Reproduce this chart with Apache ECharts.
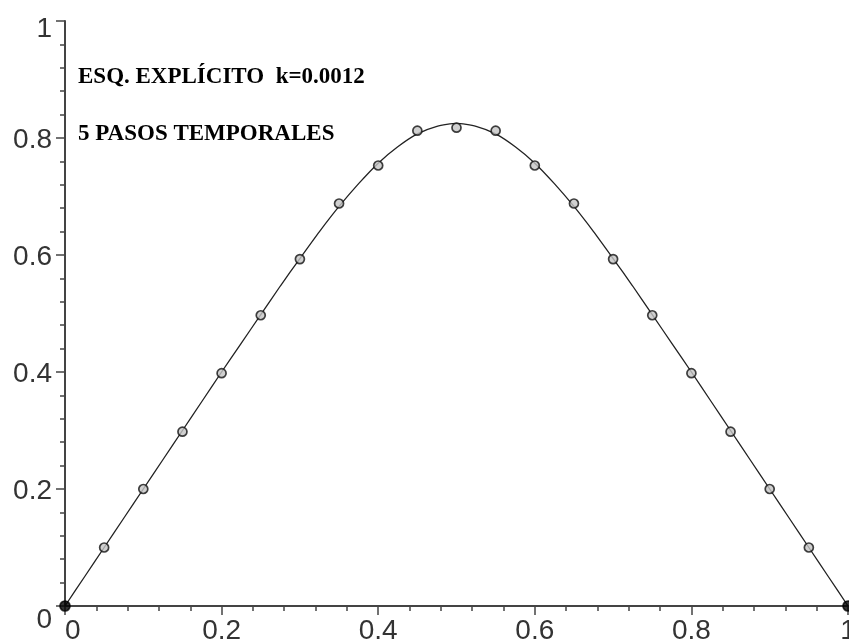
<!DOCTYPE html>
<html>
<head>
<meta charset="utf-8">
<script src="https://cdn.jsdelivr.net/npm/echarts@6/dist/echarts.min.js"></script>
<style>html,body{margin:0;padding:0;background:#fff}#c{width:849px;height:641px}</style>
</head>
<body>
<div id="c"></div>
<script>
// Numerical solution (markers)
const markerX = [0,0.05,0.1,0.15,0.2,0.25,0.3,0.35,0.4,0.45,0.5,0.55,0.6,0.65,0.7,0.75,0.8,0.85,0.9,0.95,1];
const markerY = [0,0.1,0.2,0.298,0.398,0.497,0.593,0.688,0.753,0.8125,0.8176,0.8125,0.753,0.688,0.593,0.497,0.398,0.298,0.2,0.1,0];
// Exact solution curve
const curveX = [0,0.025,0.05,0.075,0.1,0.125,0.15,0.175,0.2,0.225,0.25,0.275,0.3,0.325,0.35,0.375,0.4,0.425,0.45,0.475,0.5,
                0.525,0.55,0.575,0.6,0.625,0.65,0.675,0.7,0.725,0.75,0.775,0.8,0.825,0.85,0.875,0.9,0.925,0.95,0.975,1];
const curveY = [0,0.05,0.1,0.15,0.2,0.25,0.3,0.35,0.4,0.449,0.498,0.547,0.594,0.64,0.683,0.722,0.757,0.785,0.807,0.82,0.825,
                0.82,0.807,0.785,0.757,0.722,0.683,0.64,0.594,0.547,0.498,0.449,0.4,0.35,0.3,0.25,0.2,0.15,0.1,0.05,0];
const xTicks = [0,0.2,0.4,0.6,0.8,1];
const yTicks = [0,0.2,0.4,0.6,0.8,1];
const title1 = 'ESQ. EXPLÍCITO  k=0.0012';
const title2 = '5 PASOS TEMPORALES';

const chart = echarts.init(document.getElementById('c'), null, {renderer:'canvas'});
const fmt = v => (Math.abs(v) < 1e-9 ? '0' : Math.abs(v-1) < 1e-9 ? '1' : String(+v.toFixed(1)));
const labelFont = {fontFamily:'Liberation Sans', fontSize:28, color:'#333'};
const axisCommon = {
  type:'value', min:0, max:1, interval:0.2,
  splitLine:{show:false},
  axisLine:{show:true, onZero:false, lineStyle:{color:'#444', width:2}},
  axisTick:{show:true, length:9, lineStyle:{color:'#444', width:1.5}},
  minorTick:{show:true, splitNumber:5, length:5, lineStyle:{color:'#444', width:1.5}},
};
const markerData = markerX.map((x,i)=>{
  const end = (i===0 || i===markerX.length-1);
  return end ? {value:[x, markerY[i]], symbolSize:10, itemStyle:{color:'#000', borderColor:'#000'}}
             : {value:[x, markerY[i]]};
});
chart.setOption({
  animation:false,
  backgroundColor:'#fff',
  grid:{left:65, right:1, top:21, bottom:35, containLabel:false, outerBoundsMode:'none'},
  xAxis:Object.assign({}, axisCommon, {
    axisLabel:Object.assign({}, labelFont, {margin:11, formatter:fmt, showMinLabel:true, showMaxLabel:true,
      alignMinLabel:'left'})
  }),
  yAxis:Object.assign({}, axisCommon, {
    axisLabel:Object.assign({}, labelFont, {margin:13, showMinLabel:true, showMaxLabel:true,
      formatter: v => Math.abs(v)<1e-9 ? '{lo|0}' : Math.abs(v-1)<1e-9 ? '{hi|1}' : '{n|'+fmt(v)+'}',
      rich:{
        n:Object.assign({}, labelFont, {padding:[4,0,0,0]}),
        lo:Object.assign({}, labelFont, {padding:[28,0,0,0]}),
        hi:Object.assign({}, labelFont, {padding:[16,0,0,0]})
      }
    })
  }),
  series:[
    {type:'line', data:curveX.map((x,i)=>[x, curveY[i]]), showSymbol:false, smooth:0.2,
     lineStyle:{color:'#222', width:1.3}, z:2},
    {type:'scatter', data:markerData, symbol:'circle', symbolSize:9,
     itemStyle:{color:'#c4c4c4', borderColor:'#111', borderWidth:1.7}, z:3}
  ],
  graphic:[
    {type:'text', x:78, y:77, style:{text:title1, fontFamily:'Liberation Serif', fontWeight:'bold', fontSize:23, fill:'#000', align:'left', verticalAlign:'middle'}},
    {type:'text', x:78, y:134, style:{text:title2, fontFamily:'Liberation Serif', fontWeight:'bold', fontSize:23, fill:'#000', align:'left', verticalAlign:'middle'}}
  ]
});
</script>
</body>
</html>
